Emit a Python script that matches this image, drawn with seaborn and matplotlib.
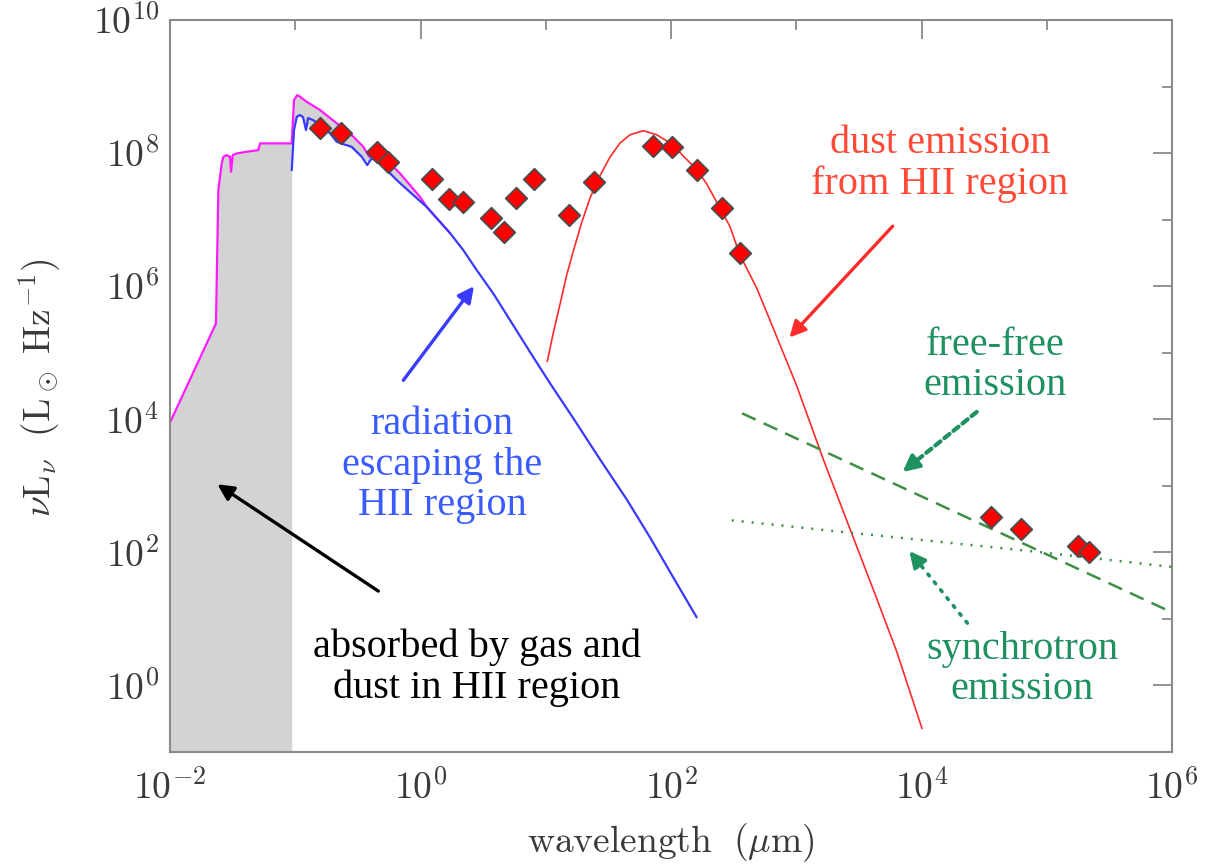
import numpy as np
import matplotlib
matplotlib.use("Agg")
import matplotlib.pyplot as plt
import seaborn as sns
from matplotlib.ticker import FixedLocator, FuncFormatter, NullFormatter

# ---------------- data (log10 values) ----------------
# intrinsic stellar spectrum (magenta)
intrinsic_loglam = [-2.000, -1.633, -1.614, -1.587, -1.574, -1.547, -1.521, -1.513, -1.499,
                    -1.467, -1.388, -1.295, -1.281, -1.042, -1.028, -1.010, -0.984, -0.962,
                    -0.909, -0.802, -0.669, -0.589, -0.457, -0.409, -0.377, -0.270, -0.164,
                    -0.004, 0.050, 0.102, 0.236]
intrinsic_logL = [3.950, 5.439, 7.444, 7.845, 7.944, 7.970, 7.944, 7.719, 7.970,
                  7.995, 8.020, 8.045, 8.146, 8.146, 8.146, 8.797, 8.872, 8.847,
                  8.771, 8.647, 8.447, 8.346, 8.095, 7.944, 8.020, 7.895, 7.695,
                  7.343, 7.190, 7.080, 6.797]

# radiation escaping the HII region (blue)
escaping_loglam = [-1.028, -1.010, -0.988, -0.962, -0.938, -0.914, -0.898, -0.858, -0.802,
                   -0.723, -0.669, -0.619, -0.549, -0.469, -0.425, -0.390, -0.323, -0.190,
                   -0.057, 0.050, 0.102, 0.236, 0.342, 0.449, 0.581, 0.715, 0.874, 1.034,
                   1.220, 1.433, 1.646, 1.832, 2.018, 2.205]
escaping_logL = [7.744, 8.346, 8.546, 8.571, 8.541, 8.346, 8.526, 8.496, 8.421,
                 8.301, 8.170, 8.135, 8.095, 7.944, 7.820, 7.925, 7.850, 7.594,
                 7.368, 7.190, 7.080, 6.797, 6.541, 6.241, 5.890, 5.489, 5.012, 4.541,
                 4.015, 3.398, 2.797, 2.226, 1.624, 1.023]

# dust emission (red)
dust_loglam = [1.012, 1.060, 1.114, 1.166, 1.220, 1.287, 1.353, 1.433, 1.513, 1.593, 1.673,
               1.779, 1.886, 1.966, 2.045, 2.124, 2.205, 2.285, 2.365, 2.471, 2.551, 2.684,
               2.790, 3.004, 3.216, 3.429, 3.642, 3.802, 4.004]
dust_logL = [4.869, 5.298, 5.729, 6.158, 6.526, 6.956, 7.323, 7.662, 7.940, 8.152, 8.275,
             8.337, 8.275, 8.183, 8.060, 7.907, 7.753, 7.538, 7.263, 6.895, 6.466, 5.973,
             5.489, 4.501, 3.398, 2.352, 1.308, 0.511, -0.647]

# free-free emission (green dashed)
freefree_loglam = [2.567, 6.000]
freefree_logL = [4.090, 1.098]

# synchrotron emission (green dotted)
synch_loglam = [2.485, 3.376, 4.890, 6.000]
synch_logL = [2.481, 2.306, 2.015, 1.781]

# observed photometry (red diamonds)
obs_loglam = [-0.802, -0.635, -0.350, -0.259, 0.092, 0.228, 0.339, 0.560, 0.667, 0.762,
              0.906, 1.183, 1.385, 1.854, 2.008, 2.208, 2.405, 2.551,
              4.553, 4.792, 5.247, 5.335]
obs_logL = [8.380, 8.305, 8.020, 7.865, 7.609, 7.313, 7.263, 7.023, 6.812, 7.323,
            7.609, 7.068, 7.568, 8.105, 8.090, 7.744, 7.173, 6.501,
            2.531, 2.356, 2.095, 2.005]

lyman_limit_loglam = -1.028   # 912 Angstrom

x_ticks_major = [-2, 0, 2, 4, 6]
x_ticks_minor = [-1, 1, 3, 5]
y_ticks_major = [0, 2, 4, 6, 8, 10]
y_ticks_minor = [-1, 1, 3, 5, 7, 9]

# ---------------- style ----------------
sns.set_theme(style="white")
plt.rcParams["font.family"] = ["Liberation Serif", "DejaVu Serif"]
plt.rcParams["mathtext.fontset"] = "cm"

FRAME = "#8a8a8a"
MAGENTA = "#ff1aff"
BLUE = "#3a3aff"
RED = "#ff2b2b"
GREEN_LINE = "#3f8f45"
GREEN_TXT = "#1f9060"
RED_TXT = "#ff4a38"
BLUE_TXT = "#3a5cff"
AX_TXT = "#3a3a3a"

fig = plt.figure(figsize=(12.06, 8.68), dpi=100)
ax = fig.add_axes([170 / 1206, 1 - 752 / 868, 1002 / 1206, 732 / 868])
ax.set_xscale("log")
ax.set_yscale("log")
ax.set_xlim(1e-2, 1e6)
ax.set_ylim(1e-1, 1e10)

p = lambda a: 10.0 ** np.asarray(a, dtype=float)

# ---------------- gray "absorbed" area ----------------
ilx = np.asarray(intrinsic_loglam)
ily = np.asarray(intrinsic_logL)
m1 = ilx <= lyman_limit_loglam + 1e-9
ax.fill_between(p(ilx[m1]), p(ily[m1]), 1e-1, color="#d3d3d3", lw=0, zorder=1)
m2 = ilx >= lyman_limit_loglam - 1e-9
blue_on_mag = np.interp(ilx[m2], escaping_loglam, escaping_logL)
ax.fill_between(p(ilx[m2]), p(ily[m2]), p(blue_on_mag), color="#d3d3d3", lw=0, zorder=1)

# ---------------- curves ----------------
sns.lineplot(x=p(intrinsic_loglam), y=p(intrinsic_logL), sort=False, estimator=None,
             color=MAGENTA, lw=1.6, ax=ax, zorder=2)
sns.lineplot(x=p(escaping_loglam), y=p(escaping_logL), sort=False, estimator=None,
             color=BLUE, lw=1.6, ax=ax, zorder=3)
sns.lineplot(x=p(dust_loglam), y=p(dust_logL), sort=False, estimator=None,
             color=RED, lw=1.2, ax=ax, zorder=3)
sns.lineplot(x=p(freefree_loglam), y=p(freefree_logL), sort=False, estimator=None,
             color=GREEN_LINE, lw=1.8, ax=ax, zorder=3)
ax.lines[-1].set_dashes([6, 3.5])
sns.lineplot(x=p(synch_loglam), y=p(synch_logL), sort=False, estimator=None,
             color=GREEN_LINE, lw=1.8, ax=ax, zorder=3)
ax.lines[-1].set_dashes([0.8, 3.2])

sns.scatterplot(x=p(obs_loglam), y=p(obs_logL), marker="D", s=120, color="#ff0000",
                edgecolor="#4a4a4a", linewidth=1.3, ax=ax, zorder=5)

# ---------------- annotations ----------------
def arrow(tail, tip, color, lw=2.4, ls="-"):
    tail = (10 ** tail[0], 10 ** tail[1])
    tip = (10 ** tip[0], 10 ** tip[1])
    if ls == "-":
        ax.annotate("", xy=tip, xytext=tail,
                    arrowprops=dict(arrowstyle="-|>", color=color, lw=lw,
                                    mutation_scale=24, shrinkA=0, shrinkB=0), zorder=6)
    else:
        t0 = np.array(ax.transData.transform(tail))
        t1 = np.array(ax.transData.transform(tip))
        d = t1 - t0
        L = np.hypot(*d)
        mid = t1 - d / L * 14.0
        mid_data = ax.transData.inverted().transform(mid)
        ax.annotate("", xy=tuple(mid_data), xytext=tail,
                    arrowprops=dict(arrowstyle="-", color=color, lw=lw, linestyle=ls,
                                    shrinkA=0, shrinkB=0), zorder=6)
        ax.annotate("", xy=tip, xytext=tuple(mid_data),
                    arrowprops=dict(arrowstyle="-|>", color=color, lw=lw,
                                    mutation_scale=24, shrinkA=0, shrinkB=0), zorder=6)

arrow((-0.337, 1.418), (-1.622, 3.023), "black")
arrow((-0.137, 4.586), (0.427, 6.000), BLUE)
arrow((3.770, 6.902), (2.945, 5.229), RED)
arrow((4.441, 4.110), (3.849, 3.208), GREEN_TXT, lw=3.0, ls=(0, (1.6, 1.2)))
arrow((4.366, 0.937), (3.903, 2.020), GREEN_TXT, lw=2.6, ls=(0, (0.6, 2.2)))

TXT = 29
def label(s, lx, ly, color):
    ax.text(10 ** lx, 10 ** ly, s, color=color, fontsize=TXT, ha="center", va="center",
            linespacing=1.12, zorder=7)

label("dust emission\nfrom HII region", 4.148, 7.835, RED_TXT)
label("free-free\nemission", 4.587, 4.812, GREEN_TXT)
label("synchrotron\nemission", 4.802, 0.241, GREEN_TXT)
label("radiation\nescaping the\nHII region", 0.172, 3.308, BLUE_TXT)
label("absorbed by gas and\ndust in HII region", 0.451, 0.271, "black")

# ---------------- axes ----------------
ax.xaxis.set_major_locator(FixedLocator(p(x_ticks_major)))
ax.xaxis.set_minor_locator(FixedLocator(p(x_ticks_minor)))
ax.yaxis.set_major_locator(FixedLocator(p(y_ticks_major)))
ax.yaxis.set_minor_locator(FixedLocator(p(y_ticks_minor)))
fmt = FuncFormatter(lambda v, pos: r"$10^{%d}$" % int(round(np.log10(v))))
ax.xaxis.set_major_formatter(fmt)
ax.yaxis.set_major_formatter(fmt)
ax.xaxis.set_minor_formatter(NullFormatter())
ax.yaxis.set_minor_formatter(NullFormatter())
ax.tick_params(which="both", direction="in", top=True, right=True, color=FRAME, width=1.3)
ax.tick_params(which="major", length=14, labelsize=27, labelcolor=AX_TXT)
ax.tick_params(which="minor", length=7)
ax.tick_params(axis="x", which="major", pad=13)
ax.tick_params(axis="y", which="major", pad=8)
for sp in ax.spines.values():
    sp.set_color(FRAME)
    sp.set_linewidth(1.5)

ax.set_xlabel(r"$\mathrm{wavelength}\ \ (\mu\mathrm{m})$", fontsize=27, color=AX_TXT, va="center")
ax.xaxis.set_label_coords(0.5, -(843 - 752) / 732)
ax.set_ylabel(r"$\nu\mathrm{L}_\nu\ \ (\mathrm{L}_\odot\ \mathrm{Hz}^{-1})$", fontsize=27,
              color=AX_TXT, va="center")
ax.yaxis.set_label_coords(-(170 - 40) / 1002, (752 - 388) / 732)

fig.savefig("out.png", dpi=100)
